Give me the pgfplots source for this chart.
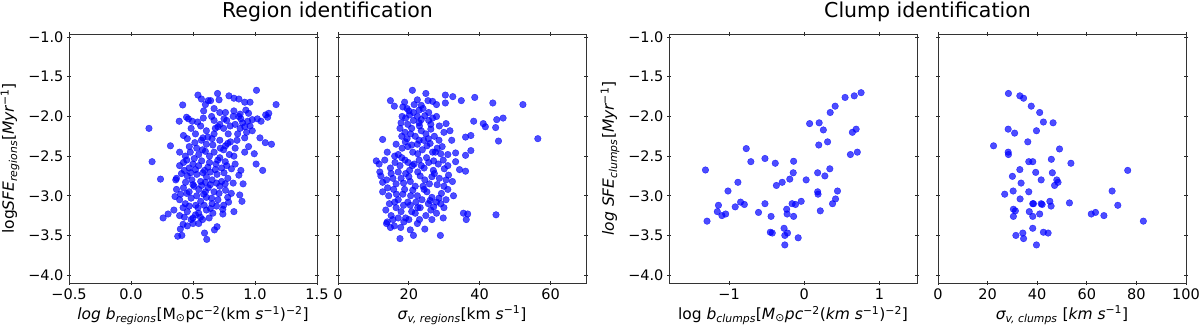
\documentclass[border=0pt]{standalone}
\usepackage{fontspec}
\setmainfont{DejaVu Sans}
\usepackage{pgfplots}
\pgfplotsset{compat=1.18}

\pgfplotsset{
 myax/.style={
  scale only axis, width=248pt, height=249pt,
  anchor=south west,
  ymin=-4.1, ymax=-0.96,
  ytick={-4,-3.5,-3,-2.5,-2,-1.5,-1},
  tick align=center, major tick length=4pt,
  xtick pos=both, ytick pos=both,
  xticklabel pos=bottom, yticklabel pos=left,
  tick style={black!85, line width=0.8pt},
  axis line style={black!80, line width=0.9pt},
  ticklabel style={font=\fontsize{14.5}{16}\selectfont},
  every axis x label/.style={at={(axis description cs:0.5,-0.13)}, anchor=center, font=\fontsize{15.5}{18}\selectfont},
  every axis y label/.style={at={(axis description cs:-0.238,0.5)}, rotate=90, anchor=center, font=\fontsize{15.5}{18}\selectfont},
 },
 sc/.style={only marks, mark=*, mark size=3.3pt, color=blue,
  mark options={fill=blue, draw=blue, opacity=0.7}},
}

\begin{document}
\begin{tikzpicture}
\path[use as bounding box] (0,0) rectangle (1200pt,329pt);

% ---------------- Panel 1 ----------------
\begin{axis}[myax, at={(69pt,46pt)},
  xmin=-0.5, xmax=1.5,
  xtick={-0.5,0,0.5,1,1.5}, xticklabels={−0.5,0.0,0.5,1.0,1.5},
  yticklabels={−4.0,−3.5,−3.0,−2.5,−2.0,−1.5,−1.0},
  xlabel={{\itshape log b\textsubscript{regions}}[M\textsubscript{⊙}pc\textsuperscript{−2}(km {\itshape s}\textsuperscript{−1})\textsuperscript{−2}]},
  ylabel={log{\itshape SFE\textsubscript{regions}}[{\itshape Myr}\textsuperscript{−1}]},
]
\addplot[sc] table {
x y
0.145 -2.15
0.170 -2.57
0.238 -2.79
0.259 -3.28
0.318 -2.37
0.299 -3.23
0.346 -3.18
0.417 -1.855
0.389 -2.06
0.448 -2.01
0.463 -2.03
0.423 -2.24
0.367 -2.78
0.355 -3.01
0.377 -3.51
0.410 -3.50
0.540 -1.73
0.568 -1.78
0.623 -1.80
0.642 -1.80
0.698 -1.71
0.710 -1.79
0.790 -1.74
0.870 -1.78
1.012 -1.67
1.170 -1.85
1.111 -1.96
1.102 -2.01
0.960 -1.82
1.040 -2.27
1.083 -2.33
1.133 -2.35
0.994 -2.47
1.009 -2.60
1.062 -2.68
0.895 -3.07
0.877 -2.99
0.830 -3.20
0.611 -3.55
0.593 -3.47
0.673 -3.43
0.694 -3.39
0.660 -3.22
0.741 -3.23
0.586 -1.93
0.670 -1.90
0.716 -1.95
0.762 -1.95
0.830 -1.93
0.880 -1.97
0.926 -1.92
0.948 -1.96
1.086 -1.98
0.830 -1.77
0.917 -1.82
0.494 -2.06
0.537 -2.07
0.583 -2.02
0.670 -2.05
0.716 -2.10
0.772 -2.05
0.824 -2.00
0.870 -2.00
0.886 -2.03
0.941 -2.06
0.978 -2.04
1.019 -2.03
1.049 -2.06
0.485 -2.15
0.562 -2.12
0.608 -2.18
0.670 -2.22
0.701 -2.13
0.747 -2.15
0.784 -2.22
0.840 -2.10
0.880 -2.15
0.917 -2.13
0.932 -2.20
0.978 -2.18
0.454 -2.28
0.515 -2.33
0.568 -2.30
0.608 -2.35
0.654 -2.28
0.716 -2.30
0.762 -2.37
0.802 -2.32
0.855 -2.30
0.917 -2.27
0.948 -2.38
0.392 -2.45
0.438 -2.50
0.478 -2.45
0.546 -2.48
0.577 -2.42
0.633 -2.50
0.670 -2.45
0.716 -2.52
0.747 -2.42
0.793 -2.48
0.830 -2.50
0.917 -2.45
0.392 -2.62
0.423 -2.58
0.469 -2.65
0.500 -2.60
0.546 -2.62
0.593 -2.68
0.633 -2.58
0.685 -2.60
0.731 -2.65
0.772 -2.62
0.840 -2.60
0.886 -2.68
0.361 -2.80
0.407 -2.72
0.454 -2.75
0.491 -2.80
0.531 -2.73
0.562 -2.82
0.608 -2.76
0.654 -2.80
0.694 -2.73
0.731 -2.82
0.781 -2.78
0.824 -2.84
0.870 -2.74
0.904 -2.85
0.367 -2.92
0.423 -2.90
0.469 -2.95
0.509 -2.88
0.546 -2.92
0.586 -2.98
0.623 -2.90
0.670 -2.95
0.716 -2.88
0.762 -2.93
0.809 -2.97
0.392 -3.05
0.438 -3.10
0.485 -3.03
0.522 -3.12
0.562 -3.07
0.608 -3.02
0.654 -3.10
0.701 -3.05
0.747 -3.12
0.787 -3.08
0.392 -3.25
0.454 -3.20
0.500 -3.28
0.546 -3.22
0.608 -3.18
0.485 -3.30
0.577 -3.30
0.398 -3.42
0.454 -3.38
0.546 -3.35
0.47 -2.38
0.53 -2.40
0.60 -2.44
0.66 -2.36
0.72 -2.40
0.78 -2.34
0.84 -2.40
0.45 -2.55
0.51 -2.53
0.57 -2.56
0.62 -2.64
0.70 -2.55
0.76 -2.57
0.81 -2.66
0.43 -2.68
0.48 -2.71
0.52 -2.67
0.58 -2.71
0.64 -2.70
0.68 -2.67
0.75 -2.71
0.44 -2.83
0.50 -2.86
0.57 -2.87
0.60 -2.83
0.64 -2.86
0.69 -2.84
0.76 -2.85
0.40 -2.98
0.45 -2.97
0.53 -3.00
0.60 -2.95
0.65 -3.03
0.71 -2.97
0.78 -3.02
0.42 -3.15
0.47 -3.13
0.54 -3.15
0.59 -3.12
0.64 -3.16
0.69 -3.13
0.74 -3.17
0.43 -3.27
0.52 -3.24
0.56 -3.27
0.63 -3.28
0.42 -3.36
0.50 -3.35
0.60 -1.85
0.65 -2.00
0.75 -2.03
0.80 -2.12
0.86 -2.22
0.90 -2.08
0.96 -2.12
0.68 -2.15
0.52 -2.22
0.58 -2.27
0.62 -2.26
};
\end{axis}

% ---------------- Panel 2 ----------------
\begin{axis}[myax, at={(338pt,46pt)},
  xmin=0, xmax=70,
  xtick={0,20,40,60}, xticklabels={0,20,40,60},
  yticklabels={},
  xlabel={{\itshape σ\textsubscript{v, regions}}[km {\itshape s}\textsuperscript{−1}]},
]
\addplot[sc] table {
x y
52.2 -1.85
56.4 -2.28
43.7 -1.83
46.6 -2.02
44.8 -2.04
45.3 -2.31
44.5 -2.14
41.0 -2.09
41.6 -2.13
38.3 -2.06
38.6 -1.76
37.5 -2.24
36.0 -2.26
36.0 -2.49
37.5 -2.43
36.0 -2.69
35.4 -3.22
36.2 -3.30
36.6 -3.23
44.6 -3.24
28.9 -3.50
34.8 -1.80
32.4 -1.75
30.3 -1.73
30.3 -1.83
21.0 -1.67
24.8 -1.71
14.8 -1.80
15.9 -1.87
12.6 -2.29
10.8 -2.56
11.8 -2.70
12.6 -2.83
13.9 -3.33
14.8 -3.40
17.7 -3.40
17.5 -3.54
21.3 -3.50
20.4 -3.43
18.8 -1.82
22.4 -1.79
23.5 -1.86
25.4 -1.80
26.7 -1.81
27.8 -1.85
20.0 -1.93
21.3 -1.95
18.3 -1.88
22.9 -1.92
25.6 -1.95
18.1 -2.00
19.1 -2.02
20.2 -1.98
21.3 -2.05
22.4 -2.00
23.5 -2.04
24.5 -1.99
25.6 -2.05
26.7 -2.02
27.8 -2.00
17.8 -2.08
19.7 -2.10
22.9 -2.08
26.2 -2.10
30.5 -2.09
17.5 -2.15
18.9 -2.20
20.8 -2.15
21.8 -2.25
23.5 -2.18
24.8 -2.22
26.2 -2.16
27.2 -2.25
28.6 -2.12
29.9 -2.20
31.6 -2.18
19.5 -2.28
22.9 -2.30
32.1 -2.30
16.4 -2.35
18.1 -2.40
19.7 -2.38
21.1 -2.45
22.4 -2.35
23.8 -2.42
25.1 -2.37
26.7 -2.45
28.0 -2.40
29.4 -2.38
31.0 -2.48
17.0 -2.48
33.2 -2.46
13.9 -2.45
11.6 -2.60
13.2 -2.55
14.8 -2.65
16.1 -2.58
17.5 -2.62
18.9 -2.55
20.2 -2.68
21.5 -2.60
22.9 -2.55
24.3 -2.65
25.6 -2.58
26.9 -2.68
28.3 -2.60
29.7 -2.55
31.0 -2.62
33.2 -2.57
34.3 -2.67
12.1 -2.75
13.7 -2.80
15.0 -2.72
16.4 -2.85
17.8 -2.78
19.1 -2.72
20.4 -2.82
21.8 -2.88
23.2 -2.75
24.5 -2.80
25.8 -2.85
27.2 -2.72
28.6 -2.78
29.9 -2.88
31.2 -2.74
32.3 -2.82
12.6 -2.95
14.3 -3.00
15.7 -2.92
17.0 -3.05
18.3 -2.98
19.7 -3.08
21.1 -2.93
22.4 -3.00
23.7 -3.05
25.1 -2.95
26.5 -3.02
27.8 -3.08
29.2 -2.97
30.5 -3.05
32.6 -3.00
13.5 -3.18
15.0 -3.25
16.4 -3.15
17.8 -3.20
19.1 -3.28
20.4 -3.12
21.8 -3.22
23.2 -3.15
24.8 -3.25
26.2 -3.18
27.8 -3.22
29.7 -3.28
29.9 -3.15
13.7 -3.35
15.9 -3.38
18.6 -3.33
22.4 -3.35
24.5 -3.42
19.0 -2.32
20.8 -2.36
22.5 -2.47
24.2 -2.30
26.0 -2.34
27.5 -2.45
29.0 -2.47
16.0 -2.50
18.0 -2.52
19.8 -2.58
21.0 -2.62
23.5 -2.62
25.0 -2.52
27.0 -2.56
30.0 -2.66
15.5 -2.78
17.0 -2.70
18.5 -2.84
20.0 -2.76
22.5 -2.70
24.0 -2.88
26.5 -2.76
28.0 -2.86
30.5 -2.80
14.0 -2.90
16.5 -2.98
18.8 -2.92
20.5 -3.00
22.0 -3.08
24.3 -2.92
26.0 -3.06
28.5 -3.03
31.0 -2.92
14.5 -3.10
16.0 -3.08
18.5 -3.12
20.8 -3.20
22.5 -3.15
25.5 -3.10
27.0 -3.14
29.0 -3.10
15.5 -3.30
17.0 -3.28
20.0 -3.30
23.0 -3.30
26.5 -3.30
19.5 -1.90
21.5 -1.85
24.0 -1.90
23.0 -2.12
20.5 -2.22
25.5 -2.28
28.5 -2.30
18.0 -2.25
};
\end{axis}

% ---------------- Panel 3 ----------------
\begin{axis}[myax, at={(669pt,46pt)},
  xmin=-1.8, xmax=1.5,
  xtick={-1,0,1}, xticklabels={−1,0,1},
  yticklabels={−4.0,−3.5,−3.0,−2.5,−2.0,−1.5,−1.0},
  xlabel={log {\itshape b\textsubscript{clumps}}[{\itshape M}\textsubscript{⊙}{\itshape pc}\textsuperscript{−2}({\itshape km s}\textsuperscript{−1})\textsuperscript{−2}]},
  ylabel={{\itshape log SFE\textsubscript{clumps}}[{\itshape Myr}\textsuperscript{−1}]},
]
\addplot[sc] table {
x y
-1.294 -3.32
-1.315 -2.675
-1.157 -3.20
-1.142 -3.12
-1.096 -3.25
-1.046 -3.23
-1.015 -2.94
-0.919 -3.14
-0.883 -2.83
-0.848 -3.08
-0.797 -3.11
-0.772 -2.405
-0.711 -2.57
-0.609 -3.21
-0.523 -2.53
-0.523 -3.10
-0.442 -3.26
-0.452 -3.46
-0.426 -3.47
-0.386 -2.59
-0.371 -2.87
-0.294 -2.83
-0.269 -3.41
-0.259 -3.50
-0.234 -3.17
-0.228 -3.23
-0.223 -3.47
-0.259 -3.62
-0.193 -2.79
-0.162 -3.10
-0.147 -2.71
-0.142 -2.565
-0.142 -3.26
-0.117 -3.11
-0.081 -3.53
-0.041 -3.07
0.025 -2.80
0.071 -2.09
0.178 -2.71
0.178 -2.95
0.183 -2.98
0.193 -2.36
0.198 -2.08
0.213 -3.19
0.254 -2.17
0.274 -2.75
0.310 -2.32
0.340 -2.66
0.345 -1.95
0.376 -3.10
0.411 -1.87
0.416 -3.04
0.442 -2.94
0.543 -1.76
0.614 -2.48
0.640 -2.20
0.665 -1.74
0.690 -2.16
0.706 -2.45
0.756 -1.70
};
\end{axis}

% ---------------- Panel 4 ----------------
\begin{axis}[myax, at={(938pt,46pt)},
  xmin=0, xmax=100,
  xtick={0,20,40,60,80,100}, xticklabels={0,20,40,60,80,100},
  yticklabels={},
  xlabel={{\itshape σ\textsubscript{v, clumps}} [{\itshape km s}\textsuperscript{−1}]},
]
\addplot[sc] table {
x y
22.4 -2.37
26.9 -2.98
28.4 -1.71
28.3 -2.16
28.3 -2.45
28.4 -2.48
30.0 -2.755
30.3 -2.94
30.4 -3.17
30.4 -3.26
30.9 -2.21
31.2 -3.19
31.4 -3.50
33.0 -1.74
33.0 -2.67
33.1 -3.04
33.5 -2.84
34.2 -3.47
34.5 -3.54
34.5 -1.77
36.2 -2.32
36.6 -2.57
36.6 -2.95
36.8 -3.20
37.6 -1.87
38.2 -2.57
38.2 -3.10
38.2 -3.26
38.2 -3.41
38.5 -3.10
39.4 -2.705
39.7 -2.18
39.7 -3.62
41.0 -1.95
41.0 -3.23
41.6 -2.80
41.6 -3.10
42.0 -3.11
42.5 -2.07
42.5 -3.46
44.4 -3.47
45.1 -3.07
45.6 -3.13
45.7 -2.54
46.1 -2.71
46.4 -2.08
47.0 -2.87
47.9 -2.80
48.4 -2.83
49.0 -2.41
53.6 -2.59
53.0 -3.09
61.8 -3.23
63.5 -3.21
66.9 -3.25
70.2 -2.94
72.5 -3.12
76.5 -2.68
82.8 -3.32
};
\end{axis}

\node[font=\fontsize{20.5}{24}\selectfont, anchor=base] at (327.5pt,311pt) {Region identification};
\node[font=\fontsize{20.5}{24}\selectfont, anchor=base] at (927.5pt,311pt) {Clump identification};
\end{tikzpicture}
\end{document}
